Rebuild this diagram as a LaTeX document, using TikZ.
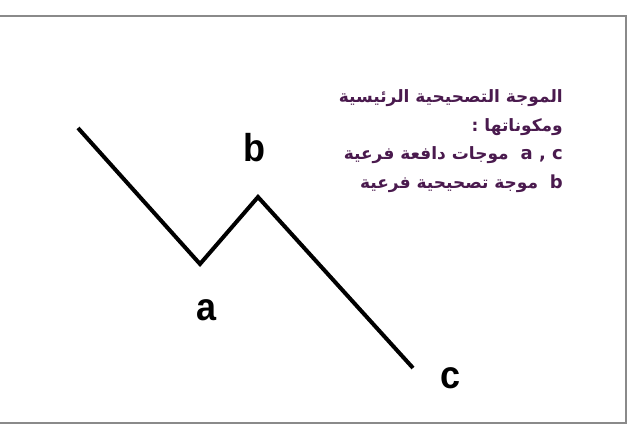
\documentclass[tikz,border=0pt]{standalone}
\usepackage{fontspec}
\setmainfont{Liberation Sans}
\newfontfamily\arabicfont[Script=Arabic]{DejaVu Sans}
\TeXXeTstate=1
\definecolor{txtpurple}{HTML}{4A1A4E}
\definecolor{framegray}{HTML}{8A8A8A}
\begin{document}
\begin{tikzpicture}[x=1pt,y=-1pt,
  wavelbl/.style={font=\fontsize{36}{36}\selectfont\bfseries, inner sep=0pt, yscale=1.08},
  artext/.style={font=\arabicfont\bfseries\fontsize{17}{17}\selectfont, text=txtpurple, anchor=east, inner sep=0pt},
  waveline/.style={line width=4pt, line join=miter},
  frameline/.style={draw=framegray, line width=1.5pt}]
\useasboundingbox (0,0) rectangle (630,426);
\fill[white] (0,0) rectangle (630,426);
\coordinate (f1) at (0,16);
\coordinate (f2) at (626,16);
\coordinate (f3) at (626,423);
\coordinate (f4) at (0,423);
\draw[frameline] (f1) -- (f2) -- (f3) -- (f4);
\coordinate (p0) at (78,128);
\coordinate (pa) at (200,264);
\coordinate (pb) at (258,197);
\coordinate (pc) at (413,368);
\draw[waveline] (p0) -- (pa) -- (pb) -- (pc);
\node[wavelbl] (la) at (207,310) {a};
\node[wavelbl] (lb) at (254,148) {b};
\node[wavelbl] (lc) at (451,378) {c};
\node[artext] (t1) at (563,98) {\beginR الموجة التصحيحية الرئيسية\endR};
\node[artext] (t2) at (563,127) {\beginR ومكوناتها :\endR};
\node[artext] (t3) at (563,155) {\beginR\beginL{\fontsize{18}{18}\selectfont a , c}\endL{}\ \ موجات دافعة فرعية\endR};
\node[artext] (t4) at (563,184) {\beginR\beginL{\fontsize{18}{18}\selectfont b}\endL{}\ \ موجة تصحيحية فرعية\endR};
\end{tikzpicture}
\end{document}
